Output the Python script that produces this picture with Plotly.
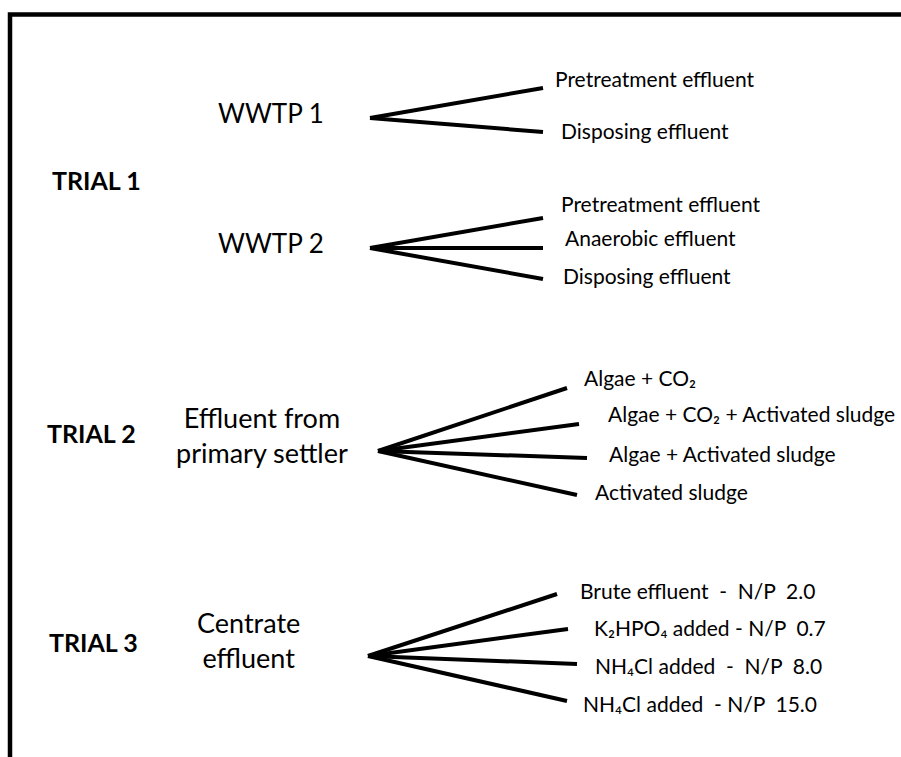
import plotly.graph_objects as go

# ---- content ----
trial_labels = ["TRIAL 1", "TRIAL 2", "TRIAL 3"]
source_labels = ["WWTP 1", "WWTP 2", "Effluent from<br>primary settler", "Centrate<br>effluent"]
branch_labels = [
    ["Pretreatment effluent", "Disposing effluent"],
    ["Pretreatment effluent", "Anaerobic effluent", "Disposing effluent"],
    ["Algae + CO₂", "Algae + CO₂ + Activated sludge",
     "Algae + Activated sludge", "Activated sludge"],
    ["Brute effluent  -  N/P  2.0", "K₂HPO₄ added - N/P  0.7",
     "NH₄Cl added  -  N/P  8.0", "NH₄Cl added  - N/P  15.0"],
]

# ---- layout positions (pixel space) ----
trial_pos = [(50, 180), (45, 433), (47, 642)]
source_pos = [(271, 113), (271, 243), (262, 435), (248, 640)]
source_size = [26, 26, 27, 27]
fan_origin = [(370, 118), (370, 248), (378, 451), (368, 656)]
fan_ends = [
    [(543, 88), (543, 132)],
    [(543, 218), (543, 248), (543, 279)],
    [(567, 388), (579, 424), (587, 458), (577, 495)],
    [(557, 594), (568, 629), (577, 664), (567, 701)],
]
label_pos = [
    [(553, 78), (559, 130)],
    [(559, 203), (563, 237), (561, 275)],
    [(582, 377), (606, 413), (607, 453), (593, 491)],
    [(578, 590), (592, 627), (593, 665), (581, 703)],
]

FONT = "Lato, Open Sans, sans-serif"
fig = go.Figure()

# frame
fig.add_trace(go.Scatter(x=[10, 10, 901], y=[757, 14.5, 14.5], mode="lines",
                         line=dict(color="black", width=4.5), hoverinfo="skip"))

# fans
for o, ends in zip(fan_origin, fan_ends):
    xs, ys = [], []
    for e in ends:
        xs += [o[0], e[0], None]
        ys += [o[1], e[1], None]
    fig.add_trace(go.Scatter(x=xs, y=ys, mode="lines",
                             line=dict(color="black", width=4), hoverinfo="skip"))

anns = []
for t, p in zip(trial_labels, trial_pos):
    anns.append(dict(x=p[0], y=p[1], text=t, xanchor="left", yanchor="middle",
                     showarrow=False, font=dict(family=FONT, size=25, color="black", weight="bold")))
for s, p, sz in zip(source_labels, source_pos, source_size):
    anns.append(dict(x=p[0], y=p[1], text=s, xanchor="center", yanchor="middle", align="center",
                     showarrow=False, font=dict(family=FONT, size=sz, color="black")))
for labs, poss in zip(branch_labels, label_pos):
    for l, p in zip(labs, poss):
        anns.append(dict(x=p[0], y=p[1], text=l, xanchor="left", yanchor="middle",
                         showarrow=False, font=dict(family=FONT, size=21, color="black")))

fig.update_layout(
    width=901, height=757,
    margin=dict(l=0, r=0, t=0, b=0),
    paper_bgcolor="white", plot_bgcolor="white",
    showlegend=False,
    xaxis=dict(range=[0, 901], visible=False, fixedrange=True),
    yaxis=dict(range=[757, 0], visible=False, fixedrange=True),
    annotations=anns,
)
fig.write_html("out.html", config={"displayModeBar": False},
               post_script="document.body.style.margin='0';document.body.style.padding='0';")
